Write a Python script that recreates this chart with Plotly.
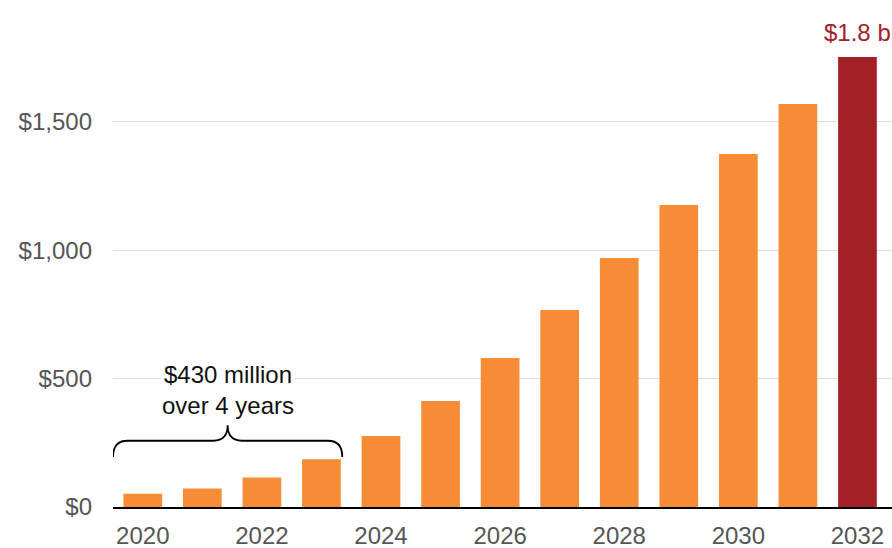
import plotly.graph_objects as go

years = list(range(2020, 2033))
values = [52, 72, 115, 186, 277, 413, 580, 767, 970, 1176, 1375, 1570, 1753]
bar_colors = ["#F68D36"] * 12 + ["#A32126"]
y_ticks = [0, 500, 1000, 1500, 2000]
y_tick_text = ["$0", "$500", "$1,000", "$1,500", "$2,000"]
x_ticks = [2020, 2022, 2024, 2026, 2028, 2030, 2032]
last_label = "$1.8 b"
brace_text = "$430 million<br>over 4 years"

fig = go.Figure()
fig.add_trace(go.Bar(x=years, y=values, marker=dict(color=bar_colors, line=dict(width=0)),
                     width=0.65, hoverinfo="skip"))

# brace over first four years
x0, x1 = years[0] - 0.5, years[3] + 0.35
xm = (x0 + x1) / 2
yb, yl, yt = 195, 258, 318
r = 0.12
path = (f"M {x0},{yb} Q {x0},{yl} {x0+r*2},{yl} L {xm-r*2},{yl} "
        f"Q {xm},{yl} {xm},{yt} Q {xm},{yl} {xm+r*2},{yl} L {x1-r*2},{yl} "
        f"Q {x1},{yl} {x1},{yb}")
fig.add_shape(type="path", path=path, xref="x", yref="y",
              line=dict(color="black", width=1.8))

fig.add_annotation(x=xm, y=455, xref="x", yref="y", text=brace_text, showarrow=False,
                   font=dict(size=24, color="#111"), bgcolor="white", align="center",
                   yanchor="middle", borderpad=0)
fig.add_annotation(x=years[-1], y=values[-1], xref="x", yref="y", text=last_label,
                   showarrow=False, yanchor="bottom", yshift=9,
                   font=dict(size=24, color="#A32126"))
fig.add_annotation(x=0, xref="paper", xanchor="right", xshift=-20, y=2000, yref="y",
                   text="$2,000", showarrow=False, font=dict(size=24, color="#555"))

fig.update_layout(
    width=892, height=548, margin=dict(l=113, r=0, t=0, b=41),
    paper_bgcolor="white", plot_bgcolor="white", showlegend=False,
    font=dict(family="Liberation Sans, Arial, sans-serif", size=24, color="#555"),
    bargap=0.35,
)
fig.update_xaxes(range=[2019.5, 2032.58], tickvals=x_ticks, ticktext=[str(v) for v in x_ticks],
                 showline=True, linecolor="black", linewidth=2, showgrid=False, automargin=False,
                 ticks="", ticklabelstandoff=6, tickfont=dict(size=24, color="#555"))
fig.update_yaxes(range=[0, 1975], tickvals=y_ticks, ticktext=y_tick_text, automargin=False,
                 showgrid=True, gridcolor="#DDDDDD", gridwidth=1, zeroline=False,
                 ticks="", ticklabelstandoff=20, tickfont=dict(size=24, color="#555"))

fig.write_html("out.html")
